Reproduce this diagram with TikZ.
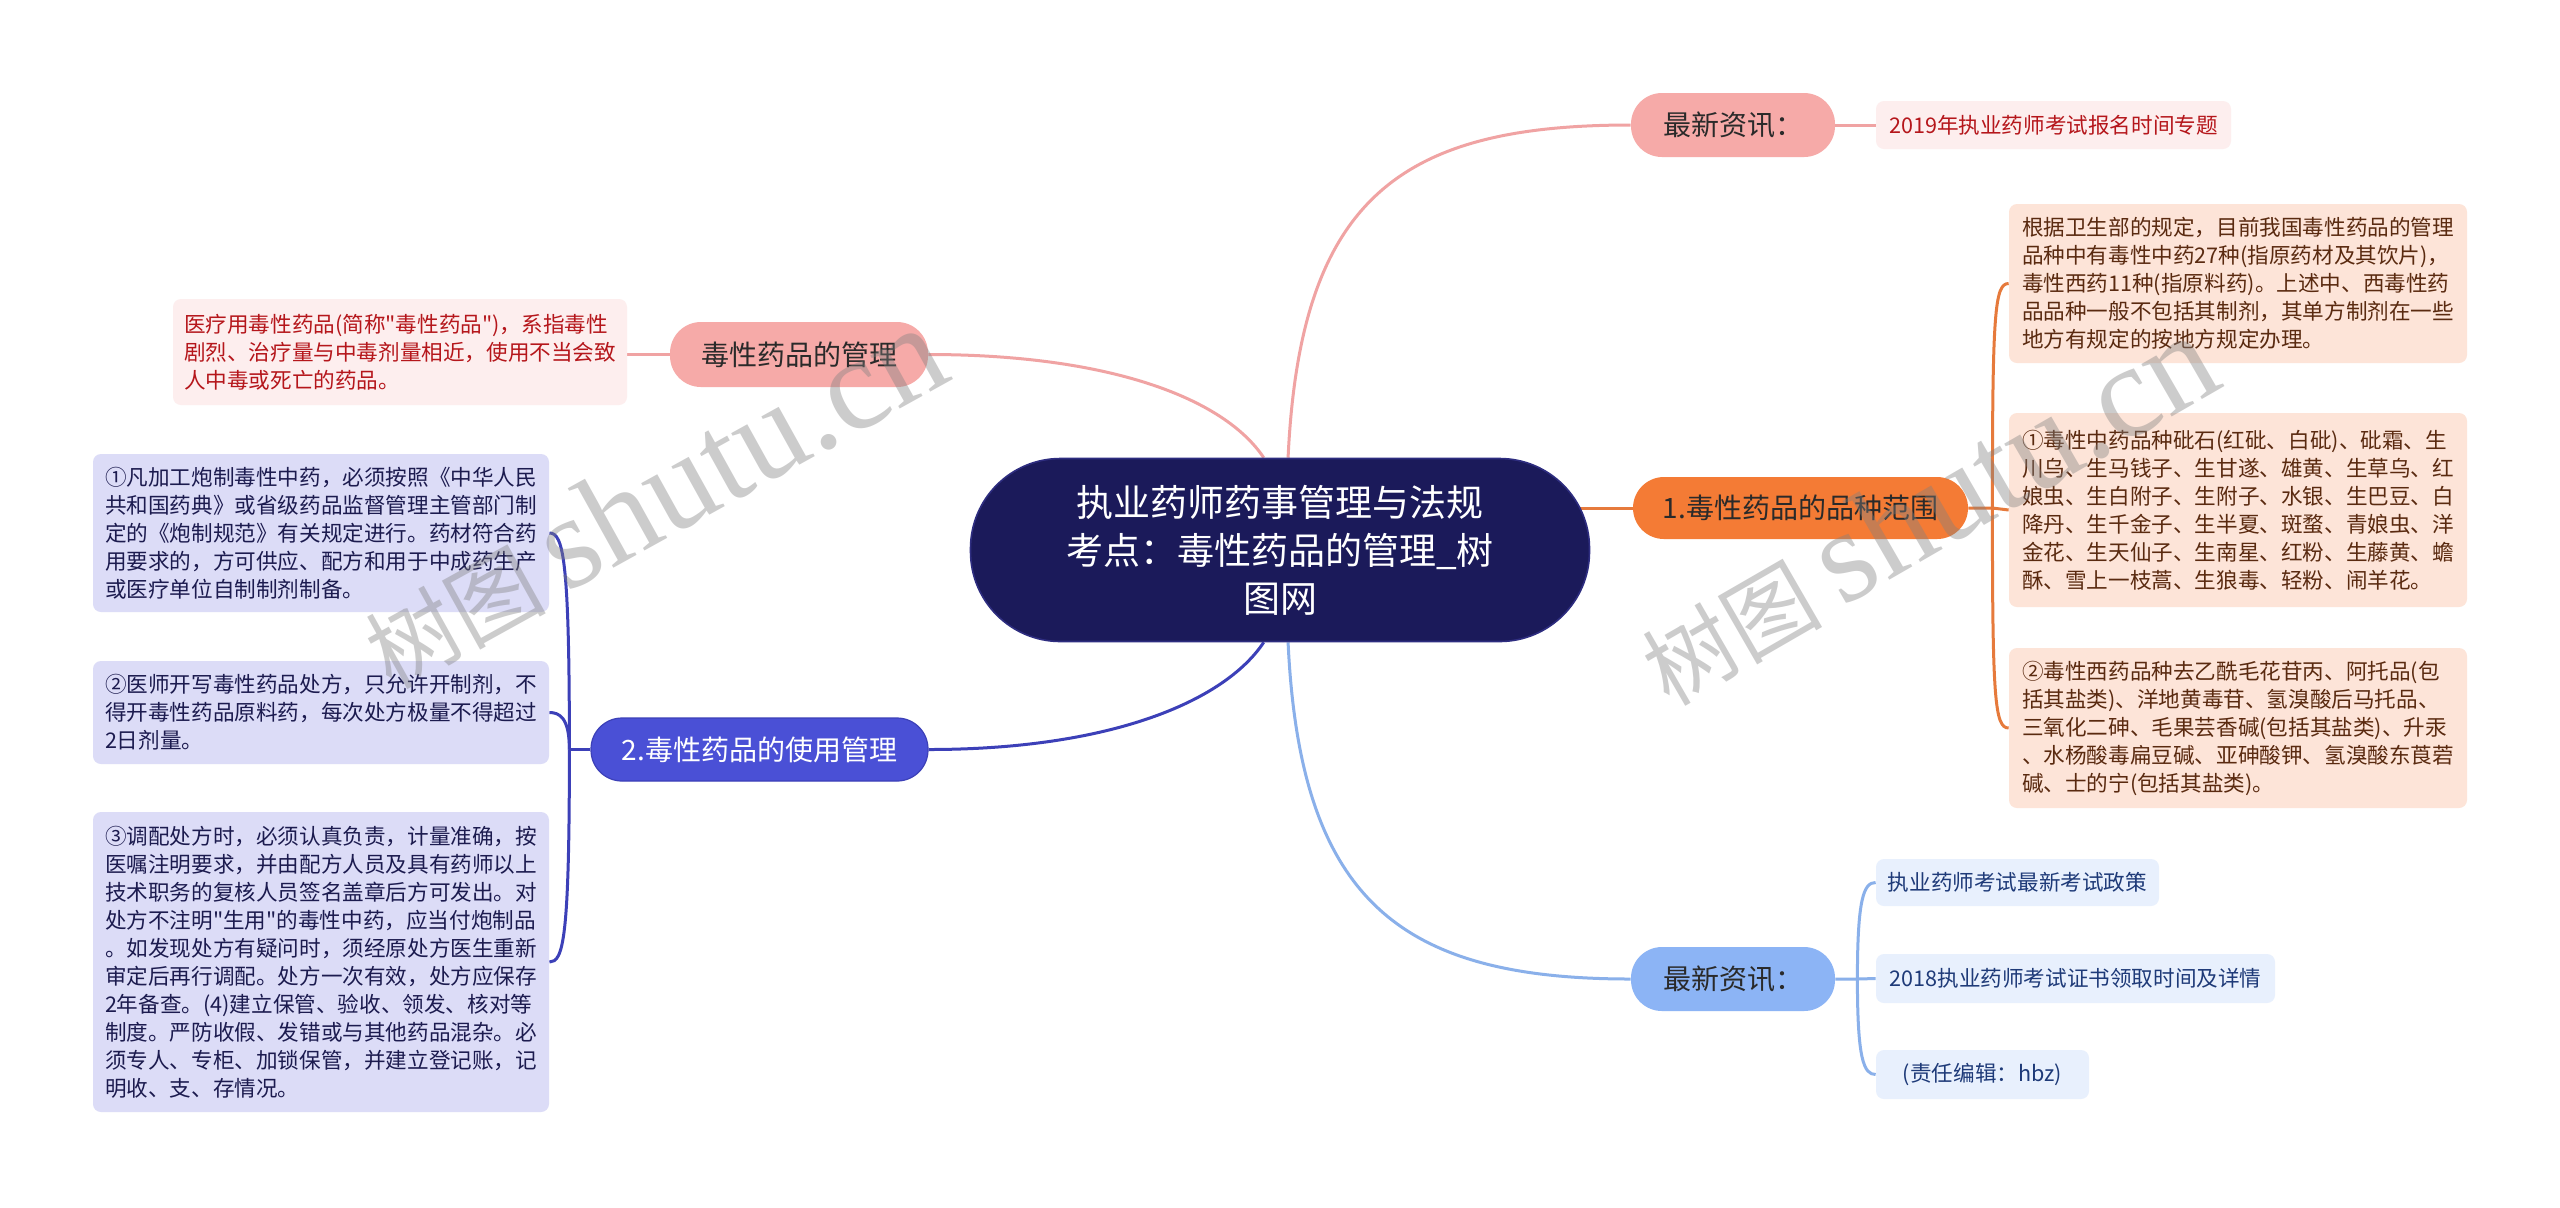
\documentclass[tikz,border=0pt]{standalone}
\usepackage{fontspec}
\usepackage{xcolor}
\usepackage{tikz}
\usetikzlibrary{backgrounds}
\newfontfamily\toxfont{Noto Sans CJK SC}
\newfontfamily\toxmarkfont{Liberation Serif}
\definecolor{toxnavy}{HTML}{1B1A5A}
\definecolor{toxnavyline}{HTML}{2E2D80}
\definecolor{toxdark}{HTML}{2A2A2A}
\definecolor{toxpinkfill}{HTML}{F6AAA8}
\definecolor{toxpinkleaf}{HTML}{FDEEEE}
\definecolor{toxpinkline}{HTML}{F0A3A3}
\definecolor{toxpinktext}{HTML}{B5161B}
\definecolor{toxusefill}{HTML}{4A50D6}
\definecolor{toxuseleaf}{HTML}{DCDCF7}
\definecolor{toxuseline}{HTML}{3C40B8}
\definecolor{toxusetext}{HTML}{1C1B4F}
\definecolor{toxorfill}{HTML}{F47B35}
\definecolor{toxorleaf}{HTML}{FDE4D8}
\definecolor{toxorline}{HTML}{E67A3C}
\definecolor{toxortext}{HTML}{5A2A10}
\definecolor{toxskyfill}{HTML}{8CB4F5}
\definecolor{toxskyleaf}{HTML}{E8F0FD}
\definecolor{toxskyline}{HTML}{8AB0EA}
\definecolor{toxskytext}{HTML}{1E3A78}
\tikzset{
  toxroot/.style={
    draw=toxnavyline,
    fill=toxnavy,
    text=white,
    line width=0.8pt,
    rounded corners=45pt,
    minimum width=309.5pt,
    minimum height=91.5pt,
    align=center,
    inner sep=0pt,
    font=\toxfont\fontsize{18.5}{24}\selectfont
  },
  toxmain/.style={
    rounded corners=15.5pt,
    minimum height=31.5pt,
    align=center,
    inner sep=0pt,
    text=toxdark,
    font=\toxfont\fontsize{14}{18}\selectfont
  },
  toxleaf/.style={
    rounded corners=4pt,
    align=left,
    inner sep=0pt,
    font=\toxfont\fontsize{10.8}{14}\selectfont
  },
  toxpink/.style={toxmain,fill=toxpinkfill},
  toxpinkbox/.style={toxleaf,fill=toxpinkleaf,text=toxpinktext},
  toxuse/.style={toxmain,fill=toxusefill,draw=toxuseline,line width=0.6pt,text=white},
  toxusebox/.style={toxleaf,fill=toxuseleaf,text=toxusetext},
  toxorange/.style={toxmain,fill=toxorfill},
  toxorbox/.style={toxleaf,fill=toxorleaf,text=toxortext},
  toxsky/.style={toxmain,fill=toxskyfill},
  toxskybox/.style={toxleaf,fill=toxskyleaf,text=toxskytext},
  toxpinkwire/.style={line width=1.5pt,toxpinkline},
  toxusewire/.style={line width=1.5pt,toxuseline},
  toxorwire/.style={line width=1.5pt,toxorline},
  toxskywire/.style={line width=1.5pt,toxskyline},
  toxmark/.style={text=black!50,opacity=0.4,inner sep=0pt,
                  font=\toxfont\fontsize{45}{45}\selectfont}
}

\begin{document}
\begin{tikzpicture}[x=0.5pt,y=-0.5pt]
  \useasboundingbox (0,0) rectangle (2560,1207);

  % centre
  \node[toxroot] (root) at (1280,550)
    {执业药师药事管理与法规\\考点：毒性药品的管理\_树\\图网};

  % left side
  \node[toxpink,minimum width=129pt,minimum height=32.5pt] (mgmt) at (799,354.5)
    {毒性药品的管理};
  \node[toxpinkbox,minimum width=227pt,minimum height=53pt] (mgmtnote) at (400,352)
    {医疗用毒性药品(简称"毒性药品")，系指毒性\\
     剧烈、治疗量与中毒剂量相近，使用不当会致\\
     人中毒或死亡的药品。};

  \node[toxuse,minimum width=168.5pt] (use) at (759.5,749.5)
    {2.毒性药品的使用管理};
  \node[toxusebox,minimum width=228pt,minimum height=79pt] (u1) at (321,533)
    {①凡加工炮制毒性中药，必须按照《中华人民\\
     共和国药典》或省级药品监督管理主管部门制\\
     定的《炮制规范》有关规定进行。药材符合药\\
     用要求的，方可供应、配方和用于中成药生产\\
     或医疗单位自制制剂制备。};
  \node[toxusebox,minimum width=228pt,minimum height=51.5pt] (u2) at (321,712.5)
    {②医师开写毒性药品处方，只允许开制剂，不\\
     得开毒性药品原料药，每次处方极量不得超过\\
     2日剂量。};
  \node[toxusebox,minimum width=228pt,minimum height=150pt] (u3) at (321,962)
    {③调配处方时，必须认真负责，计量准确，按\\
     医嘱注明要求，并由配方人员及具有药师以上\\
     技术职务的复核人员签名盖章后方可发出。对\\
     处方不注明"生用"的毒性中药，应当付炮制品\\
     。如发现处方有疑问时，须经原处方医生重新\\
     审定后再行调配。处方一次有效，处方应保存\\
     2年备查。(4)建立保管、验收、领发、核对等\\
     制度。严防收假、发错或与其他药品混杂。必\\
     须专人、专柜、加锁保管，并建立登记账，记\\
     明收、支、存情况。};

  % right side
  \node[toxpink,minimum width=102pt,minimum height=32pt] (newsa) at (1733,125)
    {最新资讯：};
  \node[toxpinkbox,align=center,minimum width=177.5pt,minimum height=24pt] (newsanote) at (2053.5,125)
    {2019年执业药师考试报名时间专题};

  \node[toxorange,minimum width=167.5pt,minimum height=31pt] (scope) at (1800.5,508)
    {1.毒性药品的品种范围};
  \node[toxorbox,minimum width=229pt,minimum height=79.5pt] (s0) at (2238,283.5)
    {根据卫生部的规定，目前我国毒性药品的管理\\
     品种中有毒性中药27种(指原药材及其饮片)，\\
     毒性西药11种(指原料药)。上述中、西毒性药\\
     品品种一般不包括其制剂，其单方制剂在一些\\
     地方有规定的按地方规定办理。};
  \node[toxorbox,minimum width=229pt,minimum height=97pt] (s1) at (2238,510)
    {①毒性中药品种砒石(红砒、白砒)、砒霜、生\\
     川乌、生马钱子、生甘遂、雄黄、生草乌、红\\
     娘虫、生白附子、生附子、水银、生巴豆、白\\
     降丹、生千金子、生半夏、斑蝥、青娘虫、洋\\
     金花、生天仙子、生南星、红粉、生藤黄、蟾\\
     酥、雪上一枝蒿、生狼毒、轻粉、闹羊花。};
  \node[toxorbox,minimum width=229pt,minimum height=80pt] (s2) at (2238,728)
    {②毒性西药品种去乙酰毛花苷丙、阿托品(包\\
     括其盐类)、洋地黄毒苷、氢溴酸后马托品、\\
     三氧化二砷、毛果芸香碱(包括其盐类)、升汞\\
     、水杨酸毒扁豆碱、亚砷酸钾、氢溴酸东莨菪\\
     碱、士的宁(包括其盐类)。};

  \node[toxsky,minimum width=102pt,minimum height=32pt] (newsb) at (1733,979)
    {最新资讯：};
  \node[toxskybox,align=center,minimum width=141.5pt,minimum height=23.5pt] (n1) at (2017.5,882.5)
    {执业药师考试最新考试政策};
  \node[toxskybox,align=center,minimum width=199.5pt,minimum height=24.5pt] (n2) at (2075.5,978.5)
    {2018执业药师考试证书领取时间及详情};
  \node[toxskybox,align=center,minimum width=106.5pt,minimum height=24.5pt] (n3) at (1982.5,1074.5)
    {(责任编辑：hbz)};

  \coordinate (ujoin) at ([xshift=-10.5pt]use.west);
  \coordinate (sjoin) at ([xshift=12pt]scope.east);
  \coordinate (njoin) at ([xshift=11pt]newsb.east);

  \begin{scope}[on background layer]
    \fill[white] (0,0) rectangle (2560,1207);
    % branches from the centre
    \draw[toxpinkwire] (root.100) .. controls +(-40,-60) and +(180,0) .. (mgmt.east);
    \draw[toxusewire] (root.260) .. controls +(-40,60) and +(180,0) .. (use.east);
    \draw[toxpinkwire] (root.85) .. controls +(12,-259) and +(-231,0) .. (newsa.west);
    \draw[toxskywire] (root.275) .. controls +(12,258) and +(-231,0) .. (newsb.west);
    \draw[toxorwire] (root.center |- scope.west) -- (scope.west);
    % leaves
    \draw[toxpinkwire] (mgmt.west) -- (mgmtnote.east |- mgmt.west);
    \draw[toxpinkwire] (newsa.east) -- (newsanote.west);
    \draw[toxusewire] (use.west) -- (ujoin);
    \draw[toxusewire] (ujoin) .. controls +(0,-190) and +(14,0) .. (u1.east);
    \draw[toxusewire] (ujoin) .. controls +(0,-32) and +(10,0) .. (u2.east);
    \draw[toxusewire] (ujoin) .. controls +(0,190) and +(14,0) .. (u3.east);
    \draw[toxorwire] (scope.east) -- (sjoin) -- (s1.west);
    \draw[toxorwire] (sjoin) .. controls +(0,-195) and +(-14,0) .. (s0.west);
    \draw[toxorwire] (sjoin) .. controls +(0,190) and +(-14,0) .. (s2.west);
    \draw[toxskywire] (newsb.east) -- (njoin) -- (n2.west);
    \draw[toxskywire] (njoin) .. controls +(0,-80) and +(-12,0) .. (n1.west);
    \draw[toxskywire] (njoin) .. controls +(0,80) and +(-12,0) .. (n3.west);
  \end{scope}

  % watermarks
  \node[toxmark,rotate=29] (markl) at (653,498)
    {树图 {\toxmarkfont\fontsize{66}{66}\selectfont shutu.cn}};
  \node[toxmark,rotate=30] (markr) at (1927,510)
    {树图 {\toxmarkfont\fontsize{66}{66}\selectfont shutu.cn}};
\end{tikzpicture}
\end{document}
